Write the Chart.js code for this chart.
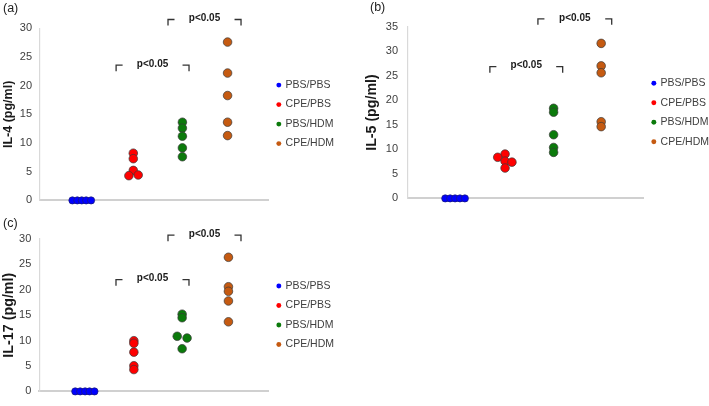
<!DOCTYPE html>
<html>
<head>
<meta charset="utf-8">
<script src="https://cdn.jsdelivr.net/npm/chart.js@4.4.1/dist/chart.umd.min.js"></script>
<style>
  html, body { margin: 0; padding: 0; background: #ffffff; overflow: hidden; }
  body { width: 709px; height: 406px; position: relative; }
  canvas { position: absolute; }
  #ca { left: 0px; top: 0px; }
  #cb { left: 360px; top: 0px; }
  #cc { left: 0px; top: 215px; }
</style>
</head>
<body>
<canvas id="ca" width="344" height="215"></canvas>
<canvas id="cb" width="359" height="215"></canvas>
<canvas id="cc" width="344" height="191"></canvas>
<script>
// ---------- data ----------
const groups = ['PBS/PBS', 'CPE/PBS', 'PBS/HDM', 'CPE/HDM'];
const groupColors = ['#0000ff', '#ff0000', '#0b7a0b', '#c55a11'];
const pLabel = 'p<0.05';

// (a) IL-4 : [x position (group index + jitter), value pg/ml]
const il4PbsPbs = [[0.76, 0], [0.86, 0], [0.95, 0], [1.04, 0], [1.14, 0]];
const il4CpePbs = [[2.0, 8.23], [2.0, 7.27], [2.0, 5.23], [1.91, 4.31], [2.10, 4.43]];
const il4PbsHdm = [[3.0, 13.63], [3.0, 12.6], [3.0, 11.19], [3.0, 9.15], [3.0, 7.61]];
const il4CpeHdm = [[3.92, 27.6], [3.92, 22.2], [3.92, 18.28], [3.92, 13.63], [3.92, 11.3]];
const il4Ticks = [0, 5, 10, 15, 20, 25, 30];
const il4Brackets = [[1.65, 3.135, 23.57], [2.707, 4.194, 31.53]];

// (b) IL-5
const il5PbsPbs = [[0.81, 0], [0.91, 0], [1.01, 0], [1.11, 0], [1.21, 0]];
const il5CpePbs = [[2.03, 9.04], [1.88, 8.38], [2.03, 7.59], [2.17, 7.39], [2.03, 6.19]];
const il5PbsHdm = [[3.02, 18.37], [3.02, 17.57], [3.02, 12.98], [3.02, 10.38], [3.02, 9.38]];
const il5CpeHdm = [[3.99, 31.6], [3.99, 27.01], [3.99, 25.61], [3.99, 15.63], [3.99, 14.63]];
const il5Ticks = [0, 5, 10, 15, 20, 25, 30, 35];
const il5Brackets = [[1.72, 3.205, 26.86], [2.70, 4.205, 36.6]];

// (c) IL-17
const il17PbsPbs = [[0.83, 0], [0.93, 0], [1.03, 0], [1.12, 0], [1.22, 0]];
const il17CpePbs = [[2.02, 9.98], [2.02, 9.47], [2.02, 7.73], [2.02, 5.05], [2.02, 4.3]];
const il17PbsHdm = [[3.0, 15.2], [3.0, 14.5], [2.9, 10.85], [3.1, 10.5], [3.0, 8.4]];
const il17CpeHdm = [[3.94, 26.4], [3.94, 20.6], [3.94, 19.7], [3.94, 17.8], [3.94, 13.7]];
const il17Ticks = [0, 5, 10, 15, 20, 25, 30];
const il17Brackets = [[1.657, 3.139, 22.0], [2.713, 4.195, 30.75]];

// ---------- drawing ----------
const FONT = "'Liberation Sans', Arial, Helvetica, sans-serif";
Chart.defaults.font.family = FONT;
Chart.defaults.devicePixelRatio = 1;

const bracketPlugin = {
  id: 'brackets',
  afterDraw(chart, args, opts) {
    const { ctx } = chart;
    const xs = chart.scales.x, ys = chart.scales.y;
    ctx.save();
    ctx.strokeStyle = '#333333';
    ctx.lineWidth = 1.3;
    ctx.fillStyle = '#1a1a1a';
    ctx.font = "bold 10px " + FONT;
    ctx.textAlign = 'center';
    ctx.textBaseline = 'middle';
    for (const b of opts.items) {
      const x1 = xs.getPixelForValue(b[0]);
      const x2 = xs.getPixelForValue(b[1]);
      const yy = ys.getPixelForValue(b[2]);
      ctx.beginPath();
      ctx.moveTo(x1 + 6.5, yy); ctx.lineTo(x1, yy); ctx.lineTo(x1, yy + 6);
      ctx.moveTo(x2 - 6.5, yy); ctx.lineTo(x2, yy); ctx.lineTo(x2, yy + 6);
      ctx.stroke();
      ctx.fillText(opts.label, (x1 + x2) / 2, yy - 1);
    }
    ctx.restore();
  }
};

function makeDatasets(series) {
  return series.map((pts, i) => ({
    label: groups[i],
    data: pts.map(p => ({ x: p[0], y: p[1] })),
    backgroundColor: groupColors[i],
    borderColor: i === 0 ? '#1c1c70' : '#3a3a3a',
    borderWidth: 0.7,
    pointRadius: i === 0 ? 3.6 : 4.3,
    pointHoverRadius: i === 0 ? 3.6 : 4.3,
    pointStyle: 'circle',
    showLine: false,
    clip: false
  }));
}

function makeChart(id, cfg) {
  const ticksArr = cfg.ticks;
  return new Chart(document.getElementById(id), {
    type: 'scatter',
    data: { datasets: makeDatasets(cfg.series) },
    plugins: [bracketPlugin],
    options: {
      responsive: false,
      animation: false,
      events: [],
      layout: { padding: cfg.padding },
      scales: {
        x: {
          type: 'linear',
          min: cfg.xMin, max: cfg.xMax,
          grid: { display: false, drawTicks: false },
          ticks: { display: false },
          border: { display: true, color: '#d0d0d0', width: 2 }
        },
        y: {
          type: 'linear',
          min: ticksArr[0], max: ticksArr[ticksArr.length - 1],
          afterBuildTicks: (s) => { s.ticks = ticksArr.map(v => ({ value: v })); },
          afterFit: (s) => { s.width = cfg.yWidth; },
          grid: { display: false, drawTicks: false },
          border: { display: true, color: '#d9d9d9', width: 1.2 },
          ticks: { color: '#404040', font: { size: 11 }, padding: cfg.tickPad },
          title: {
            display: true, text: cfg.yTitle, color: '#1a1a1a',
            font: { size: cfg.yTitleSize, weight: 'bold', lineHeight: cfg.yTitleLH },
            padding: 0
          }
        }
      },
      plugins: {
        tooltip: { enabled: false },
        title: {
          display: true, text: cfg.panel, align: 'start', color: '#222222',
          font: { size: 12.5, weight: 'normal', lineHeight: 1.2 },
          padding: cfg.titlePad
        },
        legend: {
          display: true, position: 'right', align: 'center', fullSize: false,
          labels: {
            usePointStyle: true, pointStyle: 'circle',
            boxWidth: 3, boxHeight: 3.5, padding: 9,
            color: '#404040', font: { size: 10.5 },
            generateLabels: (chart) => Chart.defaults.plugins.legend.labels.generateLabels(chart)
              .map(l => Object.assign(l, { lineWidth: 0, strokeStyle: l.fillStyle }))
          }
        },
        brackets: { items: cfg.brackets, label: pLabel }
      }
    }
  });
}

makeChart('ca', {
  panel: '(a)', yTitle: 'IL-4 (pg/ml)', yTitleSize: 12.5, yTitleLH: 0.88,
  series: [il4PbsPbs, il4CpePbs, il4PbsHdm, il4CpeHdm],
  ticks: il4Ticks, brackets: il4Brackets,
  xMin: 0.1, xMax: 4.75, yWidth: 37, tickPad: 8,
  padding: { left: 3, top: 0, right: 0, bottom: 11 },
  titlePad: { top: 1.2, bottom: 12.1 }
});
makeChart('cb', {
  panel: '(b)', yTitle: 'IL-5 (pg/ml)', yTitleSize: 14.2, yTitleLH: 0.35,
  series: [il5PbsPbs, il5CpePbs, il5PbsHdm, il5CpeHdm],
  ticks: il5Ticks, brackets: il5Brackets,
  xMin: 0.05, xMax: 4.85, yWidth: 38, tickPad: 10,
  padding: { left: 10, top: 0, right: 0, bottom: 13 },
  titlePad: { top: 0, bottom: 11.7 }
});
makeChart('cc', {
  panel: '(c)', yTitle: 'IL-17 (pg/ml)', yTitleSize: 14.3, yTitleLH: 0.91,
  series: [il17PbsPbs, il17CpePbs, il17PbsHdm, il17CpeHdm],
  ticks: il17Ticks, brackets: il17Brackets,
  xMin: 0.1, xMax: 4.75, yWidth: 36.3, tickPad: 8,
  padding: { left: 3, top: 0, right: 0, bottom: 6.7 },
  titlePad: { top: 0.8, bottom: 8.2 }
});
</script>
</body>
</html>
